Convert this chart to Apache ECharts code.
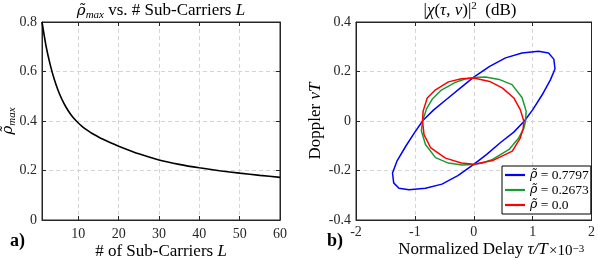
<!DOCTYPE html>
<html><head><meta charset="utf-8">
<script src="https://cdn.jsdelivr.net/npm/echarts@6/dist/echarts.min.js"></script>
<style>html,body{margin:0;padding:0;background:#fff}#c{width:598px;height:260px}</style>
</head><body><div id="c"></div>
<script>
// ---- Data ----
var subCarriers = [1,2,3,4,5,6,7,8,9,10,11,12,13,14,15,16,18,20,25,30,35,40,45,50,55,60];
var rhoMax = [0.80,0.703,0.63,0.5705,0.5235,0.4855,0.4545,0.4295,0.409,0.392,0.3775,0.365,0.354,0.3442,0.3352,0.3269,0.3119,0.2983,0.2673,0.2428,0.2248,0.2108,0.1993,0.1893,0.1804,0.1722];
var leftXTicks = [10,20,30,40,50,60];

var blueTau = [1.38,1.36,1.27,1.10,0.82,0.54,0.27,0.00,-0.22,-0.45,-0.68,-0.86,-1.00,-1.15,-1.30,-1.38,-1.36,-1.27,-1.10,-0.82,-0.54,-0.27,0.00,0.22,0.45,0.68,0.86,1.00,1.16,1.30,1.38];
var blueNu  = [0.21,0.25,0.275,0.282,0.275,0.255,0.221,0.177,0.135,0.09,0.045,0.003,-0.045,-0.10,-0.16,-0.21,-0.25,-0.272,-0.278,-0.272,-0.255,-0.221,-0.175,-0.135,-0.088,-0.045,0.0,0.045,0.105,0.165,0.21];
var greenTau = [-0.87,-0.80,-0.70,-0.55,-0.32,-0.15,0.00,0.20,0.43,0.65,0.82,0.89,0.88,0.85,0.76,0.60,0.32,0.15,0.00,-0.20,-0.43,-0.65,-0.82,-0.89,-0.87];
var greenNu  = [0.00,0.05,0.09,0.125,0.155,0.17,0.176,0.178,0.168,0.147,0.095,0.04,0.00,-0.03,-0.07,-0.115,-0.155,-0.17,-0.176,-0.178,-0.17,-0.148,-0.095,-0.04,0.00];
var redTau = [-0.87,-0.86,-0.79,-0.65,-0.43,-0.21,0.00,0.27,0.49,0.68,0.79,0.85,0.84,0.79,0.655,0.32,0.00,-0.21,-0.48,-0.73,-0.845,-0.87];
var redNu  = [0.00,0.04,0.093,0.126,0.158,0.171,0.174,0.16,0.133,0.093,0.046,0.00,-0.03,-0.069,-0.122,-0.16,-0.175,-0.17,-0.15,-0.109,-0.055,0.00];
var legendLabels = ['0.7797','0.2673','0.0'];

function zip(a,b){return a.map(function(v,i){return [v,b[i]];});}

var FONT = 'Liberation Serif';
var GFONT = 'DejaVu Serif';
var AX = '#262626';
var gridLine = {show:true, lineStyle:{color:'#d4d4d4', type:[4,3], width:1}};
var labStyle = {fontFamily:FONT, fontSize:14, color:'#262626'};
var FS = 17;
var rich = {
  n:{fontFamily:FONT, fontSize:FS, color:'#000', lineHeight:20, verticalAlign:'middle'},
  it:{fontFamily:FONT, fontSize:FS, fontStyle:'italic', color:'#000', lineHeight:20, verticalAlign:'middle'},
  g:{fontFamily:GFONT, fontSize:FS-2, fontStyle:'italic', color:'#000', lineHeight:20, verticalAlign:'middle'},
  sub:{fontFamily:FONT, fontSize:11, fontStyle:'italic', color:'#000', lineHeight:11, verticalAlign:'bottom'},
  sup:{fontFamily:FONT, fontSize:11, color:'#000', lineHeight:11, verticalAlign:'top'}
};
function txt(x,y,text,opts){
  opts = opts||{};
  return {type:'text', x:x, y:y, rotation:opts.rot||0, z:100,
    style:{text:text, rich:rich, fontFamily:FONT, fontSize:opts.size||FS, fontWeight:opts.weight||'normal', fill:'#000',
      align:opts.align||'center', verticalAlign:'middle'}};
}
function boxAxis(extra){
  return Object.assign({type:'value', axisLine:{show:true, onZero:false, lineStyle:{color:AX}},
    axisTick:{show:true, inside:true, length:4, lineStyle:{color:AX}}, axisLabel:{show:false}, splitLine:{show:false}}, extra);
}

var chart = echarts.init(document.getElementById('c'), null, {renderer:'canvas'});
var option = {
  animation:false,
  grid:[
    {left:42, top:22, width:238, height:198, show:true, borderColor:AX, borderWidth:1, backgroundColor:'#fff'},
    {left:356, top:22, width:239, height:198, show:true, borderColor:AX, borderWidth:1, backgroundColor:'#fff'}
  ],
  xAxis:[
    {type:'value', gridIndex:0, min:1, max:60,
     axisLine:{show:true, onZero:false, lineStyle:{color:AX}}, axisTick:{show:true, inside:true, length:4, customValues:leftXTicks, lineStyle:{color:AX}},
     axisLabel:Object.assign({customValues:leftXTicks, margin:7}, labStyle), splitLine:gridLine},
    boxAxis({gridIndex:0, min:1, max:60, position:'top', axisTick:{show:true, inside:true, length:4, customValues:leftXTicks, lineStyle:{color:AX}}}),
    {type:'value', gridIndex:1, min:-2, max:2, interval:1,
     axisLine:{show:true, onZero:false, lineStyle:{color:AX}}, axisTick:{show:true, inside:true, length:4, lineStyle:{color:AX}},
     axisLabel:Object.assign({margin:5}, labStyle), splitLine:gridLine},
    boxAxis({gridIndex:1, min:-2, max:2, interval:1, position:'top'})
  ],
  yAxis:[
    {type:'value', gridIndex:0, min:0, max:0.8, interval:0.2,
     axisLine:{show:true, onZero:false, lineStyle:{color:AX}}, axisTick:{show:true, inside:true, length:4, lineStyle:{color:AX}},
     axisLabel:Object.assign({margin:5, formatter:function(v){return v===0?'0':v.toFixed(1);}}, labStyle), splitLine:gridLine},
    boxAxis({gridIndex:0, min:0, max:0.8, interval:0.2, position:'right'}),
    {type:'value', gridIndex:1, min:-0.4, max:0.4, interval:0.2,
     axisLine:{show:true, onZero:false, lineStyle:{color:AX}}, axisTick:{show:true, inside:true, length:4, lineStyle:{color:AX}},
     axisLabel:Object.assign({margin:5, formatter:function(v){return Math.abs(v)<1e-9?'0':v.toFixed(1);}}, labStyle), splitLine:gridLine},
    boxAxis({gridIndex:1, min:-0.4, max:0.4, interval:0.2, position:'right'})
  ],
  legend:{
    orient:'vertical', left:502, top:166, padding:[2,2,2,3], itemGap:1,
    icon:'rect', itemWidth:20, itemHeight:2.2, backgroundColor:'#fff', borderColor:'#000', borderWidth:1, borderRadius:0,
    data:['b','g','r'],
    formatter:function(name){var i={b:0,g:1,r:2}[name]; return '{g|ρ̃} = '+legendLabels[i];},
    textStyle:{fontFamily:FONT, fontSize:13.5, color:'#000', lineHeight:14,
      rich:{g:{fontFamily:GFONT, fontSize:12.5, fontStyle:'italic', color:'#000'}}}
  },
  series:[
    {type:'line', xAxisIndex:0, yAxisIndex:0, data:zip(subCarriers, rhoMax), smooth:0.2,
     showSymbol:false, symbol:'none', lineStyle:{color:'#000', width:1.6}, itemStyle:{color:'#000'}},
    {name:'b', type:'line', xAxisIndex:2, yAxisIndex:2, data:zip(blueTau, blueNu), showSymbol:false, symbol:'none',
     lineStyle:{color:'#0000ff', width:1.5}, itemStyle:{color:'#0000ff'}},
    {name:'g', type:'line', xAxisIndex:2, yAxisIndex:2, data:zip(greenTau, greenNu), showSymbol:false, symbol:'none',
     lineStyle:{color:'#1a9a30', width:1.5}, itemStyle:{color:'#1a9a30'}},
    {name:'r', type:'line', xAxisIndex:2, yAxisIndex:2, data:zip(redTau, redNu), showSymbol:false, symbol:'none',
     lineStyle:{color:'#ff0000', width:1.5}, itemStyle:{color:'#ff0000'}}
  ],
  graphic:[
    txt(161, 11, '{g|ρ̃}{sub|max}{n| vs. # Sub-Carriers }{it|L}'),
    txt(470, 11, '{n||}{it|χ}{n|(}{it|τ}{n|, }{it|ν}{n|)|}{sup|2}{n|  (dB)}'),
    txt(8, 121, '{g|ρ̃}{sub|max}', {rot:Math.PI/2}),
    txt(316, 121, '{n|Doppler }{it|νT}', {rot:Math.PI/2}),
    txt(161, 252, '{n|# of Sub-Carriers }{it|L}'),
    txt(473, 250, '{n|Normalized Delay }{it|τ/T}'),
    {type:'text', left:549, top:244, z:100, style:{text:'×10{s|−3}', fontFamily:FONT, fontSize:15, fill:'#000',
      rich:{s:{fontFamily:FONT, fontSize:11, verticalAlign:'top', lineHeight:9}}}},
    txt(10, 241, 'a)', {align:'left', size:18, weight:'bold'}),
    txt(327, 241, 'b)', {align:'left', size:18, weight:'bold'})
  ]
};
chart.setOption(option);
</script></body></html>
